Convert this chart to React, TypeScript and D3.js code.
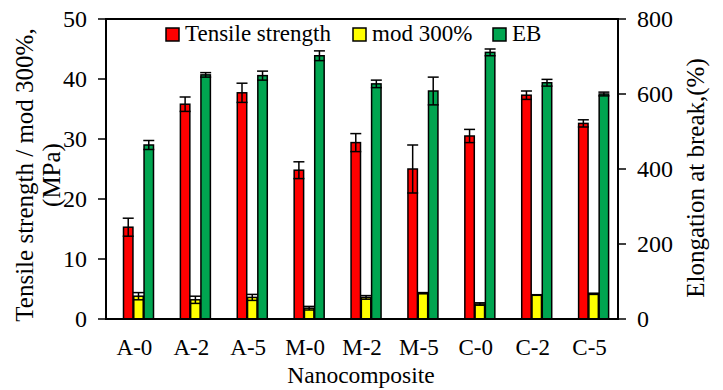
import React from "react";
import * as d3 from "d3";

const categories = ["A-0", "A-2", "A-5", "M-0", "M-2", "M-5", "C-0", "C-2", "C-5"];
const seriesNames = ["Tensile strength", "mod 300%", "EB"];
const seriesColors = ["#ff0000", "#ffff00", "#00a550"];
const tensile = [15.3, 35.8, 37.7, 24.8, 29.4, 25.0, 30.5, 37.3, 32.6];
const tensileErr = [1.5, 1.2, 1.6, 1.4, 1.5, 4.0, 1.1, 0.7, 0.6];
const mod300 = [3.8, 3.2, 3.6, 1.8, 3.6, 4.3, 2.5, 4.0, 4.2];
const mod300Err = [0.6, 0.6, 0.5, 0.3, 0.3, 0.1, 0.2, 0.05, 0.1];
const eb = [464, 651, 649, 702, 627, 608, 711, 630, 600];
const ebErr = [12, 6, 12, 13, 10, 37, 9, 9, 5];
const leftTicks = [0, 10, 20, 30, 40, 50];
const rightTicks = [0, 200, 400, 600, 800];

const W = 723, H = 390;
const L = 106, R = 618, T = 19, B = 319;
const FONT = "'Liberation Serif', 'DejaVu Serif', serif";
const ts = { fontFamily: FONT };

export default function App() {
  const x = d3.scaleBand<string>().domain(categories).range([L, R]).paddingInner(0).paddingOuter(0);
  const inner = d3.scaleBand<string>().domain(seriesNames).range([17.5, 47.5]).paddingInner(0.08);
  const yL = d3.scaleLinear().domain([0, 50]).range([B, T]);
  const yR = d3.scaleLinear().domain([0, 800]).range([B, T]);

  const series = [
    { name: seriesNames[0], vals: tensile, err: tensileErr, y: yL, color: seriesColors[0] },
    { name: seriesNames[1], vals: mod300, err: mod300Err, y: yL, color: seriesColors[1] },
    { name: seriesNames[2], vals: eb, err: ebErr, y: yR, color: seriesColors[2] },
  ];

  const legendItems = [
    { x: 166, name: seriesNames[0], color: seriesColors[0] },
    { x: 353, name: seriesNames[1], color: seriesColors[1] },
    { x: 493, name: seriesNames[2], color: seriesColors[2] },
  ];

  return (
    <div style={{ position: "fixed", left: 0, top: 0, width: W, height: H, background: "#fff" }}>
      <svg width={W} height={H} style={{ display: "block", fontFamily: FONT }}>
        <rect x={0} y={0} width={W} height={H} fill="#fff" />
        {series.map((s) =>
          categories.map((c, i) => {
            const bx = (x(c) as number) + (inner(s.name) as number);
            const bw = inner.bandwidth();
            const top = s.y(s.vals[i]);
            const cx = bx + bw / 2;
            const eTop = s.y(s.vals[i] + s.err[i]);
            const eBot = s.y(s.vals[i] - s.err[i]);
            return (
              <g key={s.name + c}>
                <rect x={bx} y={top} width={bw} height={B - top} fill={s.color} stroke="#000" strokeWidth={1.5} />
                <line x1={cx} x2={cx} y1={eTop} y2={eBot} stroke="#000" strokeWidth={1.5} />
                <line x1={cx - 5.5} x2={cx + 5.5} y1={eTop} y2={eTop} stroke="#000" strokeWidth={1.5} />
                <line x1={cx - 5.5} x2={cx + 5.5} y1={eBot} y2={eBot} stroke="#000" strokeWidth={1.5} />
              </g>
            );
          })
        )}
        {/* frame */}
        <rect x={L} y={T} width={R - L} height={B - T} fill="none" stroke="#000" strokeWidth={2} />
        {/* left ticks */}
        {leftTicks.map((t) => (
          <g key={"l" + t}>
            <line x1={L - 8} x2={L} y1={yL(t)} y2={yL(t)} stroke="#000" strokeWidth={1.5} />
            <text x={L - 19} y={yL(t)} dy="0.35em" textAnchor="end" fontSize={24} fill="#000" style={ts}>{t}</text>
          </g>
        ))}
        {/* right ticks */}
        {rightTicks.map((t) => (
          <g key={"r" + t}>
            <line x1={R} x2={R + 8} y1={yR(t)} y2={yR(t)} stroke="#000" strokeWidth={1.5} />
            <text x={R + 19} y={yR(t)} dy="0.35em" textAnchor="start" fontSize={24} fill="#000" style={ts}>{t}</text>
          </g>
        ))}
        {/* category labels */}
        {categories.map((c) => (
          <text key={"c" + c} x={(x(c) as number) + x.bandwidth() / 2} y={355} textAnchor="middle" fontSize={23} fill="#000" style={ts}>{c}</text>
        ))}
        <text x={361} y={383} textAnchor="middle" fontSize={23.5} fill="#000" style={ts}>Nanocomposite</text>
        {/* left title */}
        <g transform="translate(33,175) rotate(-90)">
          <text x={0} y={0} textAnchor="middle" fontSize={25} fill="#000" style={ts}>Tensile strength / mod 300%,</text>
          <text x={0} y={27} textAnchor="middle" fontSize={25} fill="#000" style={ts}>(MPa)</text>
        </g>
        {/* right title */}
        <g transform="translate(704,178) rotate(-90)">
          <text x={0} y={0} textAnchor="middle" fontSize={25} fill="#000" style={ts}>Elongation at break,(%)</text>
        </g>
        {/* legend */}
        {legendItems.map((it) => (
          <g key={"lg" + it.name}>
            <rect x={it.x} y={28} width={13} height={13} fill={it.color} stroke="#000" strokeWidth={1.5} />
            <text x={it.x + 19} y={41} fontSize={23} fill="#000" style={ts}>{it.name}</text>
          </g>
        ))}
      </svg>
    </div>
  );
}
